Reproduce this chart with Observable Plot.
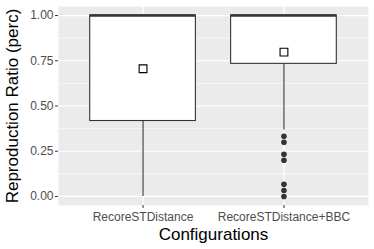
<!DOCTYPE html>
<html>
<head>
<meta charset="utf-8">
<script src="https://cdn.jsdelivr.net/npm/d3@7"></script>
<script src="https://cdn.jsdelivr.net/npm/@observablehq/plot@0.6"></script>
<style>
  html, body { margin: 0; padding: 0; background: #fff; }
</style>
</head>
<body>
<div id="chart"></div>
<script>
const categories = ["RecoreSTDistance", "RecoreSTDistance+BBC"];
const q1 = [0.417, 0.733];
const medians = [1.0, 1.0];
const q3 = [1.0, 1.0];
const whiskerLow = [0.0, 0.367];
const whiskerHigh = [1.0, 1.0];
const means = [0.706, 0.798];
const outliersBBC = [0.333, 0.3, 0.233, 0.2, 0.067, 0.033, 0.0];
const yTicks = [0, 0.25, 0.5, 0.75, 1.0];
const yMinor = [0.125, 0.375, 0.625, 0.875];

const boxes = categories.map((c, i) => ({
  pos: i + 1, q1: q1[i], med: medians[i], q3: q3[i],
  lo: whiskerLow[i], hi: whiskerHigh[i], mean: means[i]
}));
const outliers = outliersBBC.map(v => ({pos: 2, v}));
const half = 0.375;

const plot = Plot.plot({
  width: 374,
  height: 249,
  marginLeft: 58,
  marginRight: 6,
  marginTop: 6,
  marginBottom: 44,
  style: {fontFamily: "Liberation Sans, Arial, sans-serif", background: "#fff"},
  x: {type: "linear", domain: [0.4, 2.6]},
  y: {domain: [-0.05, 1.05]},
  marks: [
    Plot.frame({fill: "#EBEBEB", stroke: null}),
    Plot.ruleY(yMinor, {stroke: "#fff", strokeWidth: 0.6}),
    Plot.ruleY(yTicks, {stroke: "#fff", strokeWidth: 1.2}),
    Plot.ruleX([1, 2], {stroke: "#fff", strokeWidth: 1.2}),
    Plot.ruleX(boxes, {x: "pos", y1: "lo", y2: "hi", stroke: "#333", strokeWidth: 1.1}),
    Plot.rect(boxes, {x1: d => d.pos - half, x2: d => d.pos + half, y1: "q1", y2: "q3", fill: "#fff", stroke: "#333", strokeWidth: 1.1}),
    Plot.ruleY(boxes, {y: "med", x1: d => d.pos - half, x2: d => d.pos + half, stroke: "#333", strokeWidth: 2.6}),
    Plot.dot(outliers, {x: "pos", y: "v", r: 2.8, fill: "#333", stroke: null}),
    Plot.dot(boxes, {x: "pos", y: "mean", symbol: "square", r: 4.4, fill: "#fff", stroke: "#000", strokeWidth: 1.1}),
    Plot.axisY({ticks: yTicks, tickFormat: d3.format(".2f"), tickSize: 3, tickPadding: 2, fontSize: 12, fill: "#4D4D4D", stroke: "#333", label: null}),
    Plot.axisX({ticks: [1, 2], tickFormat: d => categories[d - 1], tickSize: 3, tickPadding: 4, fontSize: 12, fill: "#4D4D4D", stroke: "#333", label: null}),
    Plot.text(["Configurations"], {frameAnchor: "bottom", textAnchor: "middle", lineAnchor: "middle", dy: 29, fontSize: 17, fill: "#000"}),
    Plot.text(["Reproduction Ratio (perc)"], {frameAnchor: "left", textAnchor: "middle", lineAnchor: "middle", dx: -46, rotate: -90, fontSize: 17, fill: "#000"})
  ]
});
document.getElementById("chart").appendChild(plot);
</script>
</body>
</html>
